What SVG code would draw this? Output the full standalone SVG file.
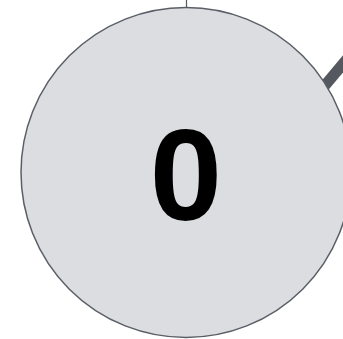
<svg xmlns="http://www.w3.org/2000/svg" width="343" height="339" viewBox="0 0 343 339">
<style>
.edge{stroke:#55585e;fill:none}
.node{fill:#dcdde0;stroke:#5a5e66;stroke-width:1.5}
.lbl{font-family:"Liberation Sans",Arial,sans-serif;font-weight:bold;font-size:130px;fill:#000;text-anchor:middle}
</style>
<g id="connectors">
<line class="edge" x1="186.5" y1="0" x2="186.5" y2="10" stroke-width="1.2"/>
<line class="edge" x1="306" y1="108" x2="368" y2="34" stroke-width="11"/>
</g>
<g id="node0">
<circle class="node" cx="186" cy="172.5" r="165"/>
<text class="lbl" x="186" y="220">0</text>
</g>
</svg>
